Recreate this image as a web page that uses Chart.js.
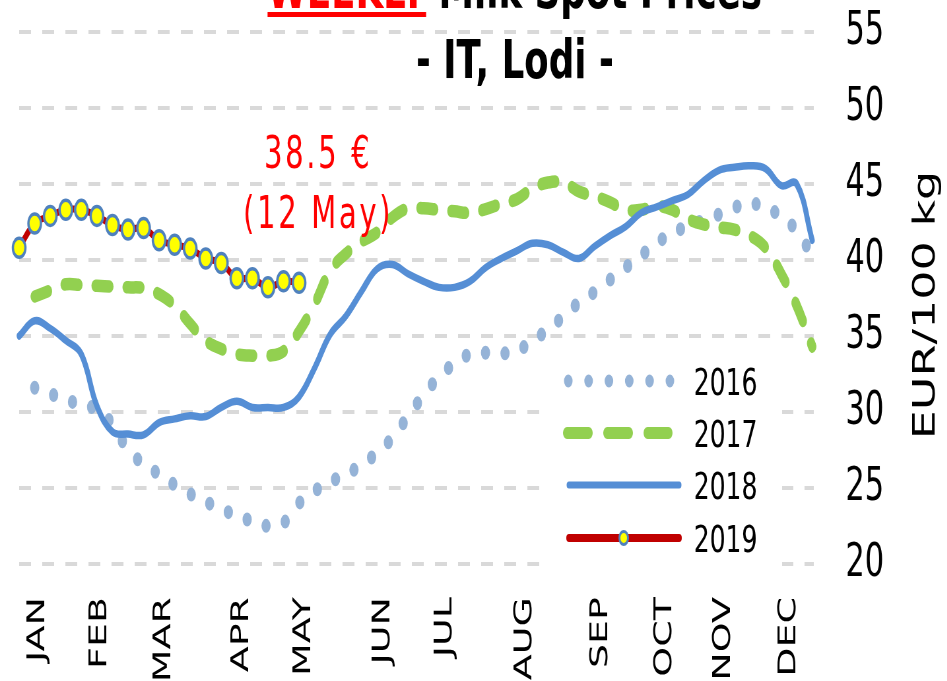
<!DOCTYPE html>
<html>
<head>
<meta charset="utf-8">
<title>WEEKLY Milk Spot Prices - IT, Lodi</title>
<script src="https://cdn.jsdelivr.net/npm/chart.js@4.4.1/dist/chart.umd.min.js"></script>
<style>
html, body { margin: 0; padding: 0; background: #fff; overflow: hidden; }
#stage {
    position: absolute; left: 0; top: 0;
    width: 1435px; height: 681px;
    transform: scaleX(0.66); transform-origin: 0 0;
}
</style>
</head>
<body>
<div id="stage"><canvas id="milkChart" width="1435" height="681"></canvas></div>
<script>
// =======================
// DATA
// =======================
const monthNames = ['JAN', 'FEB', 'MAR', 'APR', 'MAY', 'JUN', 'JUL', 'AUG', 'SEP', 'OCT', 'NOV', 'DEC'];
const monthWeeks = [2.2, 6.2, 10.3, 15.3, 19.3, 24.4, 28.4, 33.5, 38.4, 42.5, 46.3, 50.5];
const yearLabels = ['2016', '2017', '2018', '2019'];

// EUR/100 kg, one value per week
const prices2016 = [31.6, 31.2, 30.8, 30.5, 30.15, 29.2, 27.5, 26.6, 25.9, 25.2, 24.6, 24.1, 23.6, 23.2, 22.8, 22.5, 22.7,
    24.0, 24.8, 25.4, 25.9, 26.5, 27.3, 28.3, 29.7, 31.1, 32.3, 33.2, 33.8, 33.9, 33.85, 34.0, 34.7, 35.4, 36.3, 37.2,
    37.9, 38.7, 39.5, 40.3, 41.1, 41.8, 42.2, 42.6, 43.0, 43.45, 43.75, 43.4, 42.9, 41.9, 40.3];
const prices2017 = [37.6, 38.0, 38.4, 38.35, 38.3, 38.25, 38.2, 38.15, 37.75, 37.0, 35.8, 34.7, 34.15, 33.8, 33.7, 33.7,
    34.0, 35.3, 37.1, 39.3, 40.4, 41.2, 41.8, 42.8, 43.4, 43.4, 43.3, 43.2, 43.1, 43.35, 43.7, 44.0, 44.7, 45.1, 45.1,
    44.5, 44.2, 43.8, 43.3, 43.3, 43.55, 43.3, 42.7, 42.35, 42.15, 42.0, 41.6, 40.8, 39.1, 37.0, 34.3];
const prices2018 = [35.0, 36.0, 35.5, 34.7, 33.8, 30.4, 28.7, 28.55, 28.5, 29.3, 29.55, 29.75, 29.7, 30.3, 30.7, 30.3,
    30.3, 30.3, 31.0, 32.9, 35.1, 36.3, 37.9, 39.4, 39.7, 39.1, 38.6, 38.2, 38.2, 38.6, 39.5, 40.1, 40.6, 41.1, 41.0,
    40.5, 40.1, 40.9, 41.6, 42.2, 43.1, 43.5, 43.9, 44.3, 45.2, 45.9, 46.1, 46.2, 46.0, 44.9, 45.0, 41.3];
const prices2019 = [40.8, 42.4, 42.9, 43.3, 43.3, 42.9, 42.3, 42.0, 42.1, 41.3, 41.0, 40.75, 40.1, 39.8, 38.8, 38.8,
    38.2, 38.6, 38.5];
const firstWeek = [2, 2, 1, 1];

const lastPriceText = '38.5 €';
const lastDateText = '(12 May)';

function toPoints(values, start) {
    return values.map((v, i) => ({ x: start + i, y: v }));
}

// =======================
// DRAWING HELPERS
// =======================
const FONT = '"DejaVu Sans", Verdana, sans-serif';
const COLORS = ['#95B3D7', '#92D050', '#558ED5', '#C00000'];

const extrasPlugin = {
    id: 'extras',
    beforeDatasetsDraw(chart) {
        const ctx = chart.ctx;
        ctx.save();
        // legend box (white, hides the grid lines)
        ctx.fillStyle = '#fff';
        ctx.fillRect(826, 355, 359, 215);

        const rows = [381, 433, 485, 538];
        ctx.lineCap = 'round';

        // 2016 dots
        ctx.strokeStyle = COLORS[0];
        ctx.lineWidth = 13;
        ctx.setLineDash([0, 30.8]);
        ctx.beginPath(); ctx.moveTo(861, rows[0]); ctx.lineTo(1016, rows[0]); ctx.stroke();

        // 2017 dashes
        ctx.strokeStyle = COLORS[1];
        ctx.lineWidth = 12;
        ctx.setLineDash([33, 28]);
        ctx.beginPath(); ctx.moveTo(859, rows[1]); ctx.lineTo(1013, rows[1]); ctx.stroke();

        // 2018 solid
        ctx.setLineDash([]);
        ctx.strokeStyle = COLORS[2];
        ctx.lineWidth = 7;
        ctx.beginPath(); ctx.moveTo(862, rows[2]); ctx.lineTo(1029, rows[2]); ctx.stroke();

        // 2019 line + marker
        ctx.strokeStyle = COLORS[3];
        ctx.lineWidth = 8;
        ctx.beginPath(); ctx.moveTo(862, rows[3]); ctx.lineTo(1029, rows[3]); ctx.stroke();
        ctx.beginPath();
        ctx.arc(945, rows[3], 6.5, 0, Math.PI * 2);
        ctx.fillStyle = '#FFFF00';
        ctx.fill();
        ctx.lineWidth = 3;
        ctx.strokeStyle = '#4F81BD';
        ctx.stroke();

        ctx.fillStyle = '#000';
        ctx.font = '38px ' + FONT;
        ctx.textAlign = 'left';
        ctx.textBaseline = 'alphabetic';
        yearLabels.forEach((t, i) => ctx.fillText(t, 1051, rows[i] + 14));
        ctx.restore();
    },
    afterDraw(chart) {
        const ctx = chart.ctx;
        ctx.save();
        ctx.textBaseline = 'alphabetic';

        // title, first line is cut by the top edge
        ctx.font = 'bold 54px ' + FONT;
        const w1 = ctx.measureText('WEEKLY').width;
        const w2 = ctx.measureText(' Milk Spot Prices').width;
        const x0 = 780 - (w1 + w2) / 2;
        ctx.textAlign = 'left';
        ctx.fillStyle = '#FF0000';
        ctx.fillText('WEEKLY', x0, 8);
        ctx.fillRect(x0, 12, w1, 5);
        ctx.fillStyle = '#000';
        ctx.fillText(' Milk Spot Prices', x0 + w1, 8);
        ctx.textAlign = 'center';
        ctx.fillText('- IT, Lodi -', 780, 78);

        // last price note
        ctx.font = '44px ' + FONT;
        ctx.fillStyle = '#FF0000';
        ctx.letterSpacing = '4px';
        ctx.fillText(lastPriceText, 482, 168);
        ctx.fillText(lastDateText, 482, 228);
        ctx.letterSpacing = '0px';

        // y axis title, reads bottom to top
        ctx.translate(1416, 305);
        ctx.rotate(-Math.PI / 2);
        ctx.fillStyle = '#000';
        ctx.font = '46px ' + FONT;
        ctx.fillText('EUR/100 kg', 0, 0);
        ctx.restore();
    }
};

// =======================
// CHART
// =======================
const ctx = document.getElementById('milkChart').getContext('2d');

new Chart(ctx, {
    type: 'line',
    data: {
        datasets: [
            {
                label: yearLabels[0],
                data: toPoints(prices2016, firstWeek[0]),
                borderColor: COLORS[0],
                borderWidth: 14,
                borderDash: [0, 29.5],
                borderCapStyle: 'round',
                pointRadius: 0,
                order: 3
            },
            {
                label: yearLabels[1],
                data: toPoints(prices2017, firstWeek[1]),
                borderColor: COLORS[1],
                borderWidth: 12.5,
                borderDash: [21, 26],
                borderCapStyle: 'round',
                pointRadius: 0,
                order: 2
            },
            {
                label: yearLabels[2],
                data: toPoints(prices2018, firstWeek[2]),
                borderColor: COLORS[2],
                borderWidth: 7.5,
                borderCapStyle: 'round',
                pointRadius: 0,
                order: 1
            },
            {
                label: yearLabels[3],
                data: toPoints(prices2019, firstWeek[3]),
                borderColor: COLORS[3],
                borderWidth: 7,
                pointRadius: 9.5,
                pointBackgroundColor: '#FFFF00',
                pointBorderColor: '#4F81BD',
                pointBorderWidth: 3.5,
                order: 0
            }
        ]
    },
    options: {
        responsive: false,
        animation: false,
        devicePixelRatio: 1,
        events: [],
        clip: false,
        layout: { padding: { left: 29, top: 32, right: 0, bottom: 0 } },
        elements: { line: { tension: 0.4, borderJoinStyle: 'round' } },
        scales: {
            x: {
                type: 'linear',
                min: 1,
                max: 52.1,
                grid: { display: false, drawTicks: false },
                border: { display: false },
                afterBuildTicks: scale => {
                    scale.ticks = monthWeeks.map(v => ({ value: v }));
                },
                afterFit: scale => {
                    scale.height = 117;
                    scale.paddingLeft = 0;
                    scale.paddingRight = 0;
                },
                ticks: {
                    autoSkip: false,
                    minRotation: 90,
                    maxRotation: 90,
                    padding: 33,
                    color: '#000',
                    font: { family: FONT, size: 38 },
                    callback: (value, index) => monthNames[index]
                }
            },
            y: {
                position: 'right',
                min: 20,
                max: 55,
                grid: { color: '#D9D9D9', lineWidth: 4, drawTicks: false },
                border: { display: false, dash: [18, 17] },
                afterFit: scale => {
                    scale.width = 202;
                    scale.paddingTop = 0;
                    scale.paddingBottom = 0;
                },
                ticks: {
                    stepSize: 5,
                    padding: 48,
                    color: '#000',
                    font: { family: FONT, size: 46 }
                }
            }
        },
        plugins: {
            legend: { display: false },
            title: { display: false },
            tooltip: { enabled: false }
        }
    },
    plugins: [extrasPlugin]
});
</script>
</body>
</html>
